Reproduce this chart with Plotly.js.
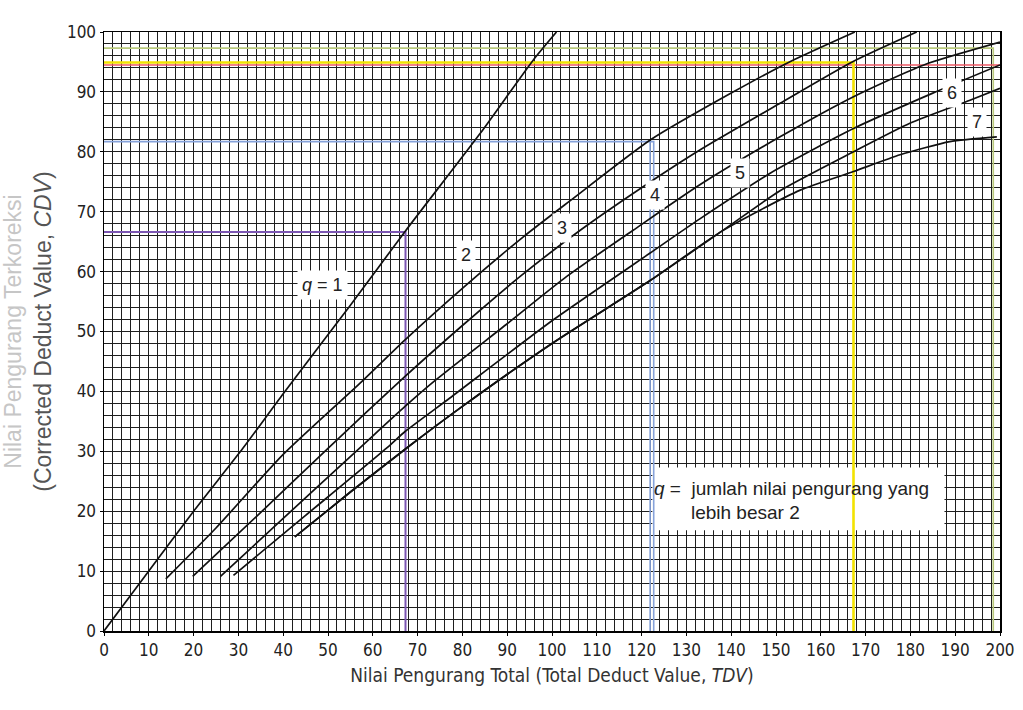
<!DOCTYPE html>
<html>
<head>
<meta charset="utf-8">
<script src="https://cdn.plot.ly/plotly-3.0.1.min.js"></script>
<style>html,body{margin:0;padding:0;background:#fff;}#chart{width:1023px;height:710px;}</style>
</head>
<body>
<div id="chart"></div>
<script>
// Corrected Deduct Value curves (TDV -> CDV)
const q1TDV = [0, 10, 20, 31, 40, 55, 67.2, 83.9, 95.8, 101];
const q1CDV = [0, 10, 20, 30.5, 39.6, 54.4, 66.7, 83, 95.3, 100];

const q2TDV = [13.8, 25, 40, 57.9, 67.2, 80, 93.6, 104, 122, 140, 153, 167.6];
const q2CDV = [8.7, 17.2, 29.5, 41.9, 48.6, 57.2, 65.8, 71.8, 82, 89.8, 95, 100];

const q3TDV = [19.8, 35, 50, 67.2, 80, 92.9, 106.3, 122, 133, 150.9, 167, 181.4];
const q3CDV = [9.1, 19.8, 30.5, 42.5, 51, 59.2, 66.9, 75, 80.3, 88.1, 95, 100];

const q4TDV = [26, 40, 57, 67.2, 74.2, 90, 103.3, 118.1, 133, 150.9, 167.3, 183, 200];
const q4CDV = [9.1, 18.8, 30.5, 37.5, 42, 51.3, 59.2, 66.9, 74.5, 82.5, 89.2, 94.5, 98.3];

const q5TDV = [28.9, 45, 63.8, 67.2, 77.2, 100, 121.9, 133, 150, 167.3, 185, 200];
const q5CDV = [9.3, 19.3, 31, 33.3, 38.9, 51.8, 63.1, 68.8, 77, 83.9, 89.8, 94.5];

const q6TDV = [42.6, 55, 68, 80, 100, 121.9, 138, 150.9, 167.3, 180, 193.3, 200];
const q6CDV = [15.7, 23.2, 30.8, 37.5, 48, 58.5, 66.8, 73.5, 80, 84.8, 88.6, 90.6];

const q7TDV = [42.6, 55, 68, 80, 100, 121.9, 138, 155.4, 167.3, 177.7, 188.8, 199.3];
const q7CDV = [15.7, 23.2, 30.8, 37.5, 48, 58.5, 66.8, 73.6, 76.7, 79.5, 81.7, 82.5];

// Coloured reading lines drawn on the reference
const purpleTDV = [0, 67.3, 67.3];   const purpleCDV = [66.6, 66.6, 0];
const blueTDV   = [0, 122.7, 122.7]; const blueCDV   = [81.7, 81.7, 0];
const blue2TDV  = [121.9, 121.9];    const blue2CDV  = [81.7, 0];
const redTDV    = [0, 200.3, 200.3]; const redCDV    = [94.5, 94.5, 0];
const greenTDV  = [0, 198.5, 198.5]; const greenCDV  = [97.3, 97.3, 0];
const yellowTDV = [0, 167.3, 167.3]; const yellowCDV = [94.9, 94.9, 0];

// Curve labels
const labelText = ['<i>q</i> = 1', '2', '3', '4', '5', '6', '7'];
const labelTDV  = [48.7, 80.8, 102.2, 123, 142, 189.3, 194.9];
const labelCDV  = [57.8, 62.8, 67.3, 72.8, 76.5, 89.8, 85];

const xTickVals = [0,10,20,30,40,50,60,70,80,90,100,110,120,130,140,150,160,170,180,190,200];
const yTickVals = [0,10,20,30,40,50,60,70,80,90,100];

const NARROW = '"Liberation Sans Narrow", "Arial Narrow", "DejaVu Sans Condensed", "Liberation Sans", Arial, sans-serif';
const SANS = '"Liberation Sans", Arial, sans-serif';

function refLine(x, y, color, w) {
  return {x: x, y: y, type: 'scatter', mode: 'lines', line: {color: color, width: w}, hoverinfo: 'skip', showlegend: false, cliponaxis: false};
}
function curve(x, y) {
  return {x: x, y: y, type: 'scatter', mode: 'lines', line: {color: '#111', width: 1.7, shape: 'spline', smoothing: 0.6}, hoverinfo: 'skip', showlegend: false};
}

const data = [
  refLine(greenTDV, greenCDV, '#b9c97c', 1.6),
  refLine(redTDV, redCDV, '#ee5a66', 1.6),
  refLine(purpleTDV, purpleCDV, '#7b55b2', 2),
  refLine(blueTDV, blueCDV, '#86a2da', 1.6),
  refLine(blue2TDV, blue2CDV, '#86a2da', 1.6),
  refLine(yellowTDV, yellowCDV, '#f3e300', 2.6),
  curve(q1TDV, q1CDV), curve(q2TDV, q2CDV), curve(q3TDV, q3CDV), curve(q4TDV, q4CDV),
  curve(q5TDV, q5CDV), curve(q6TDV, q6CDV), curve(q7TDV, q7CDV)
];

const annotations = labelText.map((t, i) => ({
  x: labelTDV[i], y: labelCDV[i], xref: 'x', yref: 'y', text: t, showarrow: false,
  font: {family: SANS, size: 18, color: '#222'}, bgcolor: '#fff', borderpad: 4
}));
annotations.push({
  x: 122.4, y: 27.3, xref: 'x', yref: 'y', xanchor: 'left', yanchor: 'top',
  width: 292, height: 63, align: 'left', valign: 'middle', showarrow: false,
  text: '<i>q</i> =  jumlah nilai pengurang yang<br>\u00A0\u00A0\u00A0\u00A0\u00A0\u00A0\u00A0lebih besar 2',
  font: {family: SANS, size: 19, color: '#222'}
});

const axisCommon = {
  showgrid: true, gridcolor: '#1e1e1e', gridwidth: 1,
  showline: true, mirror: true, linecolor: '#000', linewidth: 1.5,
  ticks: 'outside', ticklen: 3, tickcolor: '#000', zeroline: false,
  tickfont: {family: NARROW, size: 17, color: '#222'}
};

const layout = {
  width: 1023, height: 710,
  margin: {l: 104, r: 23, t: 32, b: 79},
  paper_bgcolor: '#fff', plot_bgcolor: '#fff',
  showlegend: false,
  xaxis: Object.assign({}, axisCommon, {
    range: [0, 200], tickvals: xTickVals, ticktext: xTickVals.map(String),
    minor: {dtick: 2, tick0: 0, showgrid: true, gridcolor: '#1e1e1e', gridwidth: 1},
    title: {text: 'Nilai Pengurang Total (Total Deduct Value, <i>TDV</i>)', font: {family: NARROW, size: 19, color: '#333'}, standoff: 10}
  }),
  yaxis: Object.assign({}, axisCommon, {
    range: [0, 100], tickvals: yTickVals, ticktext: yTickVals.map(String),
    minor: {dtick: 2, tick0: 0, showgrid: true, gridcolor: '#1e1e1e', gridwidth: 1},
    title: {text: '<span style="color:#c6c6c6">Nilai Pengurang Terkoreksi</span><br>(Corrected Deduct Value, <i>CDV</i>)', font: {family: SANS, size: 23, color: '#555'}, standoff: 10}
  }),
  shapes: [{
    type: 'rect', xref: 'x', yref: 'y', layer: 'between',
    x0: 122.4, x1: 187.6, y0: 16.8, y1: 27.3,
    fillcolor: '#fff', line: {width: 0}
  }],
  annotations: annotations
};

Plotly.newPlot('chart', data, layout, {staticPlot: true, displayModeBar: false});
</script>
</body>
</html>
